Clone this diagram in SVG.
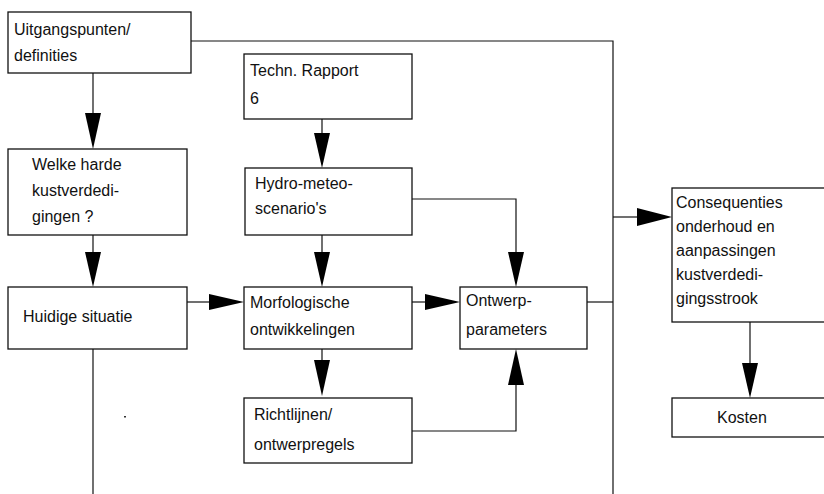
<svg xmlns="http://www.w3.org/2000/svg" width="824" height="494" viewBox="0 0 824 494">
  <defs>
    <style>
      .box { fill: #ffffff; stroke: #111111; stroke-width: 1.3; }
      .line { fill: none; stroke: #111111; stroke-width: 1.2; }
      .head { fill: #000000; stroke: none; }
      text { font-family: "Liberation Sans", Arial, sans-serif; font-size: 16px; fill: #111111; }
    </style>
  </defs>
  <rect width="824" height="494" fill="#ffffff"/>

  <!-- connectors -->
  <g id="connectors">
    <!-- Uitgangspunten -> right bus -->
    <polyline class="line" points="191,41 613,41 613,494"/>
    <!-- bus -> Consequenties -->
    <line class="line" x1="613" y1="217" x2="640" y2="217"/>
    <polygon class="head" points="637,208 672,217 637,226"/>
    <!-- Uitgangspunten -> Welke -->
    <line class="line" x1="93" y1="73" x2="93" y2="115"/>
    <polygon class="head" points="85,113 101,113 93,149"/>
    <!-- Welke -> Huidige -->
    <line class="line" x1="93" y1="235" x2="93" y2="254"/>
    <polygon class="head" points="85,252 101,252 93,287"/>
    <!-- Huidige bottom line -->
    <line class="line" x1="93" y1="349" x2="93" y2="494"/>
    <!-- Huidige -> Morfologische -->
    <line class="line" x1="187" y1="302" x2="211" y2="302"/>
    <polygon class="head" points="209,294 244,302 209,310"/>
    <!-- Techn -> Hydro -->
    <line class="line" x1="322" y1="119" x2="322" y2="135"/>
    <polygon class="head" points="314,133 330,133 322,168"/>
    <!-- Hydro -> Morfologische -->
    <line class="line" x1="322" y1="235" x2="322" y2="254"/>
    <polygon class="head" points="314,252 330,252 322,287"/>
    <!-- Hydro -> Ontwerp -->
    <polyline class="line" points="412,199 516,199 516,254"/>
    <polygon class="head" points="508,252 524,252 516,287"/>
    <!-- Morfologische -> Ontwerp -->
    <line class="line" x1="412" y1="302" x2="427" y2="302"/>
    <polygon class="head" points="425,294 460,302 425,310"/>
    <!-- Morfologische -> Richtlijnen -->
    <line class="line" x1="322" y1="349" x2="322" y2="362"/>
    <polygon class="head" points="314,360 330,360 322,396"/>
    <!-- Richtlijnen -> Ontwerp -->
    <polyline class="line" points="412,431 516,431 516,383"/>
    <polygon class="head" points="508,385 524,385 516,349"/>
    <!-- Ontwerp -> bus -->
    <line class="line" x1="587" y1="302" x2="613" y2="302"/>
    <!-- Consequenties -> Kosten -->
    <line class="line" x1="750" y1="322" x2="750" y2="365"/>
    <polygon class="head" points="742,363 758,363 750,398"/>
  </g>

  <g id="uitgangspunten">
    <rect class="box" x="8" y="12" width="183" height="61"/>
    <text x="14" y="35">Uitgangspunten/</text>
    <text x="14" y="61">definities</text>
  </g>

  <g id="welke-harde">
    <rect class="box" x="8" y="149" width="179" height="86"/>
    <text x="32" y="170">Welke harde</text>
    <text x="32" y="196">kustverdedi-</text>
    <text x="32" y="222">gingen ?</text>
  </g>

  <g id="huidige-situatie">
    <rect class="box" x="8" y="287" width="179" height="62"/>
    <text x="23" y="322">Huidige situatie</text>
  </g>

  <g id="techn-rapport">
    <rect class="box" x="244" y="54" width="168" height="65"/>
    <text x="250" y="76">Techn. Rapport</text>
    <text x="250" y="104">6</text>
  </g>

  <g id="hydro-meteo">
    <rect class="box" x="245" y="168" width="167" height="67"/>
    <text x="255" y="189">Hydro-meteo-</text>
    <text x="255" y="214">scenario's</text>
  </g>

  <g id="morfologische">
    <rect class="box" x="244" y="287" width="168" height="62"/>
    <text x="250" y="308">Morfologische</text>
    <text x="250" y="335">ontwikkelingen</text>
  </g>

  <g id="richtlijnen">
    <rect class="box" x="244" y="398" width="168" height="65"/>
    <text x="254" y="420">Richtlijnen/</text>
    <text x="254" y="450">ontwerpregels</text>
  </g>

  <g id="ontwerpparameters">
    <rect class="box" x="460" y="287" width="127" height="62"/>
    <text x="466" y="306">Ontwerp-</text>
    <text x="466" y="335">parameters</text>
  </g>

  <g id="consequenties">
    <rect class="box" x="672" y="188" width="160" height="134"/>
    <text x="676" y="208">Consequenties</text>
    <text x="676" y="232">onderhoud en</text>
    <text x="676" y="256">aanpassingen</text>
    <text x="676" y="280">kustverdedi-</text>
    <text x="676" y="304">gingsstrook</text>
  </g>

  <g id="kosten">
    <rect class="box" x="672" y="398" width="160" height="39"/>
    <text x="717" y="423">Kosten</text>
  </g>

  <rect x="124" y="416" width="2" height="1.5" fill="#333333"/>
</svg>
